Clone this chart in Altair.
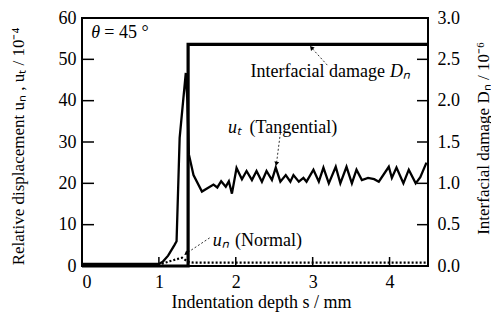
import altair as alt
import pandas as pd

# ---- data ----
s_ut = [0, 0.5, 1.0, 1.05, 1.12, 1.2, 1.23, 1.27, 1.35, 1.37, 1.39, 1.45, 1.56,
        1.71, 1.76, 1.81, 1.87, 1.91, 1.95, 2.01, 2.08, 2.14, 2.21, 2.27, 2.34,
        2.40, 2.47, 2.52, 2.58, 2.65, 2.71, 2.75, 2.82, 2.88, 2.92, 3.01, 3.08,
        3.14, 3.21, 3.30, 3.36, 3.44, 3.51, 3.57, 3.64, 3.72, 3.80, 3.86, 3.99,
        4.03, 4.09, 4.18, 4.25, 4.34, 4.40, 4.48]
ut = [0.5, 0.5, 0.5, 1.0, 2.5, 5.0, 6.0, 31.0, 46.7, 40.0, 27.0, 22.0, 18.0,
      19.7, 19.0, 20.5, 19.2, 20.5, 17.5, 23.7, 21.0, 23.0, 20.8, 23.0, 20.4,
      23.0, 20.8, 23.8, 20.4, 22.0, 20.4, 22.0, 20.4, 21.3, 20.4, 23.3, 20.4,
      23.8, 20.0, 24.0, 20.0, 24.0, 20.0, 23.3, 20.8, 21.3, 21.0, 20.4, 24.0,
      21.3, 23.8, 20.0, 23.3, 20.0, 21.5, 25.0]

s_un = [0, 1.0, 1.15, 1.3, 1.38, 1.45, 4.5]
un = [0.3, 0.3, 1.2, 2.0, 1.0, 0.8, 0.8]

s_dn = [0, 1.38, 1.38, 4.5]
dn = [0, 0, 2.68, 2.68]

x_ticks = [0, 1, 2, 3, 4]
left_ticks = [0, 10, 20, 30, 40, 50, 60]
right_ticks = [0.0, 0.5, 1.0, 1.5, 2.0, 2.5, 3.0]

df_ut = pd.DataFrame({"s": s_ut, "v": ut, "i": range(len(s_ut))})
df_un = pd.DataFrame({"s": s_un, "v": un, "i": range(len(s_un))})
df_dn = pd.DataFrame({"s": s_dn, "d": dn, "i": range(len(s_dn))})
df_xt = pd.DataFrame({"s": x_ticks})
df_lt = pd.DataFrame({"v": left_ticks[1:-1]})
df_rt = pd.DataFrame({"d": right_ticks[1:-1]})
one = pd.DataFrame({"_": [0]})

W, H = 346, 248
FONT = "Liberation Serif"
LBL = 18

xsc = alt.Scale(domain=[0, 4.5], nice=False, zero=False)
ysl = alt.Scale(domain=[0, 60], nice=False)
ysr = alt.Scale(domain=[0, 3], nice=False)

x_axis = alt.Axis(values=x_ticks, ticks=False, domain=False, grid=False,
                  labelFont=FONT, labelFontSize=LBL, labelColor="black", labelPadding=7,
                  title="Indentation depth  s  / mm", titleFont=FONT, titleFontSize=18,
                  titleFontWeight="normal", titleColor="black", titleX=W / 2 + 6,
                  titleY=36, titleAlign="center", titleBaseline="middle")
yl_axis = alt.Axis(values=left_ticks, ticks=False, domain=False, grid=False,
                   labelFont=FONT, labelFontSize=LBL, labelColor="black", labelPadding=6,
                   title="Relative displacement uₙ , uₜ  / 10⁻⁴", titleFont=FONT,
                   titleFontSize=17, titleFontWeight="normal", titleColor="black",
                   titleAngle=270, titleX=-64, titleY=H / 2 + 4, titleAlign="center",
                   titleBaseline="middle")
yr_axis = alt.Axis(values=right_ticks, format=".1f", orient="right", ticks=False,
                   domain=False, grid=False, labelFont=FONT, labelFontSize=LBL,
                   labelColor="black", labelPadding=9,
                   title="Interfacial damage Dₙ  / 10⁻⁶", titleFont=FONT,
                   titleFontSize=17, titleFontWeight="normal", titleColor="black",
                   titleAngle=270, titleX=55, titleY=H / 2 - 4, titleAlign="center",
                   titleBaseline="middle")


def X(field=None, datum=None):
    if datum is not None:
        return alt.X(datum=datum, type="quantitative", scale=xsc, axis=x_axis)
    return alt.X(field, type="quantitative", scale=xsc, axis=x_axis)


def YL(field=None, datum=None):
    if datum is not None:
        return alt.Y(datum=datum, type="quantitative", scale=ysl, axis=yl_axis)
    return alt.Y(field, type="quantitative", scale=ysl, axis=yl_axis)


def YR(field):
    return alt.Y(field, type="quantitative", scale=ysr, axis=yr_axis)


ut_line = alt.Chart(df_ut).mark_line(color="black", strokeWidth=2.3).encode(
    x=X("s"), y=YL("v"), order="i:Q")
un_line = alt.Chart(df_un).mark_line(color="black", strokeWidth=2.2, strokeDash=[2, 2]).encode(
    x=X("s"), y=YL("v"), order="i:Q")
xt = alt.Chart(df_xt).mark_rule(color="black", strokeWidth=1.5).encode(
    x=X("s"), y=alt.value(H), y2=alt.value(H - 9))
lt = alt.Chart(df_lt).mark_rule(color="black", strokeWidth=1.5).encode(
    y=YL("v"), x=alt.value(0), x2=alt.value(12))


def txt(label, s, v, align="left", italic=False, size=18, dx=0):
    return alt.Chart(one).mark_text(
        text=label, font=FONT, fontSize=size, align=align, baseline="middle",
        fontStyle="italic" if italic else "normal", color="black", dx=dx).encode(
        x=X(datum=s), y=YL(datum=v))


def leader(s1, v1, s2, v2, ang):
    seg = alt.Chart(one).mark_rule(color="black", strokeWidth=0.8, strokeDash=[2, 2]).encode(
        x=X(datum=s1), y=YL(datum=v1), x2=alt.datum(s2), y2=alt.datum(v2))
    head = alt.Chart(one).mark_point(shape="triangle", filled=True, color="black",
                                     size=24, angle=ang, opacity=1).encode(
        x=X(datum=s2), y=YL(datum=v2))
    return seg + head


annots = [
    txt("θ", 0.12, 56.4, italic=True),
    txt("= 45 °", 0.29, 56.4),
    txt("Interfacial damage", 3.94, 46.9, align="right"),
    txt("Dₙ", 3.94, 46.9, italic=True, dx=5),
    txt("uₜ", 1.90, 33.4, italic=True),
    txt("(Tangential)", 2.18, 33.4),
    txt("uₙ", 1.70, 6.0, italic=True),
    txt("(Normal)", 1.99, 6.0),
    leader(3.19, 48.6, 2.99, 52.7, 317),
    leader(2.58, 32.2, 2.53, 24.9, 191),
    leader(1.66, 6.8, 1.36, 3.1, 233),
]

left = alt.layer(ut_line, un_line, xt, lt, *annots)

dn_line = alt.Chart(df_dn).mark_line(color="black", strokeWidth=3.2).encode(
    x=X("s"), y=YR("d"), order="i:Q")
rt = alt.Chart(df_rt).mark_rule(color="black", strokeWidth=1.5).encode(
    y=YR("d"), x=alt.value(W - 11), x2=alt.value(W))
right = alt.layer(dn_line, rt)

chart = alt.layer(left, right).resolve_scale(y="independent").properties(
    width=W, height=H,
    autosize=alt.AutoSizeParams(type="none"),
    padding={"left": 74, "top": 10, "right": 63, "bottom": 54},
    background="white",
).configure_view(stroke="black", strokeWidth=2)

chart.save("out.html", embed_options={"renderer": "svg", "actions": False})
